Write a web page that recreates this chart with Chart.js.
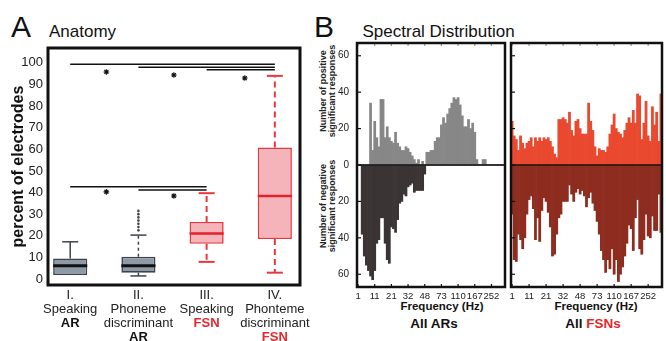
<!DOCTYPE html>
<html>
<head>
<meta charset="utf-8">
<script src="https://cdn.jsdelivr.net/npm/chart.js@4.4.0/dist/chart.umd.min.js"></script>
<style>
  html, body { margin: 0; padding: 0; background: #fff; }
  body { width: 666px; height: 341px; position: relative; overflow: hidden;
         font-family: 'Liberation Sans', Arial, sans-serif; color: #111; }
  canvas { position: absolute; top: 0; }
  .t { position: absolute; white-space: nowrap; }
  .big { font-size: 30px; line-height: 30px; }
  .head { font-size: 17px; line-height: 17px; }
  .ytitle { position: absolute; white-space: nowrap; text-align: center; font-weight: bold;
            font-size: 9px; line-height: 9px; color: #222;
            transform: translate(-50%, -50%) rotate(-90deg); }
  .xt { position: absolute; white-space: nowrap; font-weight: bold; transform: translateX(-50%); }
</style>
</head>
<body>
<div class="t big" style="left:11px; top:11.6px;">A</div>
<div class="t head" style="left:49px; top:22.6px;">Anatomy</div>
<div class="t big" style="left:314px; top:11.6px;">B</div>
<div class="t head" style="left:362.5px; top:22.6px;">Spectral Distribution</div>

<div class="ytitle" style="left:327.5px; top:91px;">Number of positive<br>significant responses</div>
<div class="ytitle" style="left:327.5px; top:206px;">Number of negative<br>significant responses</div>

<div class="xt" style="left:442px; top:300px; font-size:11.5px; line-height:12px;">Frequency (Hz)</div>
<div class="xt" style="left:596px; top:300px; font-size:11.5px; line-height:12px;">Frequency (Hz)</div>
<div class="xt" style="left:434px; top:316.8px; font-size:13.5px; line-height:14px;">All ARs</div>
<div class="xt" style="left:593px; top:316.8px; font-size:13.5px; line-height:14px;">All <span style="color:#e8262c;">FSNs</span></div>

<canvas id="chartA" width="330" height="341" style="left:0px;"></canvas>
<canvas id="chartAR" width="178" height="341" style="left:330px;"></canvas>
<canvas id="chartFSN" width="158" height="341" style="left:508px;"></canvas>

<script>
// ---- panel A: box plots ----
const catNumerals = ['I.', 'II.', 'III.', 'IV.'];
const catTasks = [['Speaking'], ['Phoneme', 'discriminant'], ['Speaking'], ['Phonteme', 'discriminant']];
const catGroups = ['AR', 'AR', 'FSN', 'FSN'];

const boxLow = [1.8, 1.4, 7.9, 2.9];
const boxQ1 = [1.8, 2.9, 16.3, 18.5];
const boxMedian = [6.1, 6.1, 21.0, 38.4];
const boxQ3 = [9.5, 10.3, 26.4, 60.8];
const boxHigh = [17.2, 20.3, 39.7, 94.0];
const outliersII = [22.5, 24, 25.5, 27, 28.5, 30, 31.5];

const yTicksA = [0, 10, 20, 30, 40, 50, 60, 70, 80, 90, 100];

// significance brackets (from category, to category, height) and stars
const sigFrom = [0, 1, 2, 0, 1];
const sigTo = [3, 3, 3, 2, 2];
const sigY = [99.4, 98.0, 96.8, 42.7, 41.2];
const starX = [0.53, 1.52, 2.56, 0.53, 1.52];
const starY = [95.8, 94.4, 93.0, 40.3, 38.4];

// ---- panel B: spectral histograms ----
const freqTicks = ['1', '11', '21', '32', '48', '73', '110', '167', '252'];
const arPositive = [0, 0, 0, 0, 0, 0, 34, 8, 24, 15, 10, 36, 36, 15, 21, 15, 13, 12, 18, 12,
  10, 8, 8, 10, 9, 7, 5, 3, 1, 3, 0, 2, 0, 7, 7, 8, 8, 13, 15, 15,
  22, 26, 23, 28, 31, 34, 37, 36, 37, 33, 27, 21, 21, 25, 20, 23, 18, 3, 0, 0,
  3, 3, 0, 0, 0, 0, 0, 0, 0, 0, 0];
const arNegative = [0, 0, 38, 50, 55, 58, 61, 63, 58, 43, 41, 29, 29, 43, 52, 54, 34, 35, 37, 30,
  21, 20, 16, 17, 12, 11, 10, 15, 14, 14, 14, 14, 5, 0, 0, 0, 0, 0, 0, 0,
  0, 0, 0, 0, 0, 0, 0, 0, 0, 0, 0, 0, 0, 0, 0, 0, 0, 0, 0, 0,
  0, 0, 0, 0, 0, 0, 0, 0, 0, 0, 0];
const fsnPositive = [24, 16, 14, 8, 16, 12, 9, 12, 13, 15, 10, 15, 13, 15, 13, 15, 14, 15, 13, 10,
  6, 4, 25, 25, 26, 25, 23, 29, 19, 16, 24, 25, 20, 17, 17, 17, 34, 24, 19, 10,
  5, 9, 8, 8, 7, 10, 17, 22, 28, 20, 18, 17, 15, 19, 23, 26, 23, 30, 23, 39,
  38, 14, 23, 35, 16, 13, 32, 22, 29, 13, 39];
const fsnNegative = [27, 52, 53, 38, 41, 46, 40, 27, 19, 17, 24, 41, 29, 42, 25, 18, 20, 26, 34, 50,
  49, 38, 29, 27, 20, 20, 20, 11, 16, 20, 15, 13, 16, 14, 17, 23, 18, 15, 21, 25,
  31, 38, 47, 52, 59, 52, 57, 46, 60, 52, 64, 60, 56, 50, 43, 33, 35, 47, 29, 19,
  46, 49, 41, 27, 39, 40, 28, 36, 36, 16, 37];
const yTicksB = [-60, -40, -20, 0, 20, 40, 60];

Chart.defaults.font.family = "'Liberation Sans', Arial, sans-serif";
Chart.defaults.color = '#222';

const grayBox = { fill: '#8e9aa6', edge: '#3d4349', median: '#111' };
const redBox = { fill: '#f4b4b9', edge: '#e8383e', median: '#e3202b' };
const boxStyle = catGroups.map(g => g === 'AR' ? grayBox : redBox);
const groupColor = { AR: '#111', FSN: '#e8262c' };

function line(ctx, x1, y1, x2, y2) {
    ctx.beginPath();
    ctx.moveTo(x1, y1);
    ctx.lineTo(x2, y2);
    ctx.stroke();
}

const framePlugin = {
    id: 'frame',
    afterDraw(chart, args, opts) {
        const { ctx, chartArea: a } = chart;
        ctx.save();
        ctx.strokeStyle = '#111';
        ctx.lineWidth = opts.width || 2.5;
        ctx.strokeRect(a.left, a.top, a.right - a.left, a.bottom - a.top);
        ctx.restore();
    }
};

const boxParts = {
    id: 'boxParts',
    afterDatasetsDraw(chart) {
        const { ctx, scales: { x, y } } = chart;
        const bars = chart.getDatasetMeta(0).data;
        ctx.save();
        catGroups.forEach((g, i) => {
            const s = boxStyle[i];
            const cx = x.getPixelForValue(i);
            const half = bars[i].width / 2;
            const capHalf = half * 0.47;
            const red = g === 'FSN';
            ctx.strokeStyle = s.edge;
            ctx.lineWidth = red ? 2 : 1.5;
            ctx.setLineDash(i === 0 ? [] : (red ? [6, 4] : [3, 3]));
            line(ctx, cx, y.getPixelForValue(boxQ3[i]), cx, y.getPixelForValue(boxHigh[i]));
            line(ctx, cx, y.getPixelForValue(boxQ1[i]), cx, y.getPixelForValue(boxLow[i]));
            ctx.setLineDash([]);
            line(ctx, cx - capHalf, y.getPixelForValue(boxHigh[i]), cx + capHalf, y.getPixelForValue(boxHigh[i]));
            if (boxLow[i] < boxQ1[i]) {
                line(ctx, cx - capHalf, y.getPixelForValue(boxLow[i]), cx + capHalf, y.getPixelForValue(boxLow[i]));
            }
            ctx.strokeStyle = s.median;
            ctx.lineWidth = red ? 2.5 : 3;
            line(ctx, cx - half, y.getPixelForValue(boxMedian[i]), cx + half, y.getPixelForValue(boxMedian[i]));
        });
        ctx.restore();
    }
};

const categoryLabels = {
    id: 'categoryLabels',
    afterDraw(chart) {
        const { ctx, chartArea, scales: { x } } = chart;
        ctx.save();
        ctx.textAlign = 'center';
        ctx.textBaseline = 'middle';
        catNumerals.forEach((num, i) => {
            const cx = x.getPixelForValue(i);
            let yy = chartArea.bottom + 10;
            ctx.font = "13px 'Liberation Sans', Arial, sans-serif";
            ctx.fillStyle = '#222';
            [num, ...catTasks[i]].forEach(t => {
                ctx.fillText(t, cx, yy);
                yy += 14;
            });
            ctx.font = "bold 13px 'Liberation Sans', Arial, sans-serif";
            ctx.fillStyle = groupColor[catGroups[i]];
            ctx.fillText(catGroups[i], cx, yy);
        });
        ctx.restore();
    }
};

new Chart(document.getElementById('chartA'), {
    type: 'bar',
    data: {
        datasets: [
            {
                data: catGroups.map((g, i) => ({ x: i, y: [boxQ1[i], boxQ3[i]] })),
                backgroundColor: boxStyle.map(s => s.fill),
                borderColor: boxStyle.map(s => s.edge),
                borderWidth: 1.6,
                borderSkipped: false,
                barPercentage: 0.5,
                categoryPercentage: 1
            },
            {
                type: 'line',
                data: outliersII.map(v => ({ x: 1, y: v })),
                showLine: false,
                pointRadius: 1.3,
                pointBackgroundColor: '#444',
                pointBorderWidth: 0
            },
            ...sigFrom.map((f, k) => ({
                type: 'line',
                data: [{ x: f, y: sigY[k] }, { x: sigTo[k], y: sigY[k] }],
                borderColor: '#111',
                borderWidth: 1.5,
                pointRadius: 0
            })),
            {
                type: 'line',
                data: starX.map((v, k) => ({ x: v, y: starY[k] })),
                showLine: false,
                pointStyle: 'star',
                pointRadius: 2.8,
                pointBorderColor: '#111',
                pointBorderWidth: 1.1
            }
        ]
    },
    options: {
        responsive: false,
        animation: false,
        layout: { padding: { top: 48, right: 30, bottom: 56, left: 0 } },
        plugins: { legend: { display: false }, tooltip: { enabled: false }, frame: { width: 3 } },
        scales: {
            x: { type: 'linear', display: false, offset: false, min: -0.3255, max: 3.369 },
            y: {
                min: -2.8, max: 106.9,
                grid: { display: false, drawTicks: false },
                border: { display: false },
                afterBuildTicks: s => { s.ticks = yTicksA.map(v => ({ value: v })); },
                afterFit: s => { s.width = 48; s.paddingTop = 0; s.paddingBottom = 0; },
                ticks: { padding: 5, font: { size: 13 }, color: '#222' },
                title: {
                    display: true, text: 'percent of electrodes', color: '#111',
                    font: { size: 16, weight: 'bold' }, padding: { top: 9, bottom: 0 }
                }
            }
        }
    },
    plugins: [boxParts, categoryLabels, framePlugin]
});

// ---- spectral bar charts ----
const binLabels = arPositive.map((v, i) => i % 8 === 0 ? (freqTicks[i / 8] || '') : '');

const innerTicks = {
    id: 'innerTicks',
    afterDatasetsDraw(chart) {
        const { ctx, chartArea: a, scales: { x, y } } = chart;
        ctx.save();
        ctx.strokeStyle = '#111';
        ctx.lineWidth = 1.2;
        y.ticks.forEach(t => {
            const py = y.getPixelForValue(t.value);
            line(ctx, a.left, py, a.left + 4, py);
        });
        binLabels.forEach((lab, i) => {
            if (!lab) return;
            const px = x.getPixelForValue(i);
            line(ctx, px, a.bottom, px, a.bottom - 3);
            ctx.strokeStyle = '#999';
            line(ctx, px, a.top, px, a.top + 3);
            ctx.strokeStyle = '#111';
        });
        ctx.lineWidth = 1.5;
        const y0 = y.getPixelForValue(0);
        line(ctx, a.left, y0, a.right, y0);
        ctx.restore();
    }
};

function spectrumChart(id, pos, neg, posColor, negColor, showLabels, axisWidth, padRight) {
    return new Chart(document.getElementById(id), {
        type: 'bar',
        data: {
            labels: binLabels,
            datasets: [
                { data: pos, backgroundColor: posColor, grouped: false, barPercentage: 1, categoryPercentage: 1, borderWidth: 0 },
                { data: neg.map(v => -v), backgroundColor: negColor, grouped: false, barPercentage: 1, categoryPercentage: 1, borderWidth: 0 }
            ]
        },
        options: {
            responsive: false,
            animation: false,
            layout: { padding: { top: 43, right: padRight, bottom: 0, left: 0 } },
            plugins: { legend: { display: false }, tooltip: { enabled: false }, frame: { width: 2.5 } },
            scales: {
                x: {
                    grid: { display: false, drawTicks: false },
                    border: { display: false },
                    afterFit: s => { s.height = 54; s.paddingLeft = 0; s.paddingRight = 0; },
                    ticks: {
                        autoSkip: false, maxRotation: 0, minRotation: 0, padding: 4,
                        font: { size: 9.5 }, color: '#222',
                        callback: (v, i) => binLabels[i] || null
                    }
                },
                y: {
                    min: -67, max: 67,
                    grid: { display: false, drawTicks: false },
                    border: { display: false },
                    afterBuildTicks: s => { s.ticks = yTicksB.map(v => ({ value: v })); },
                    afterFit: s => { s.width = axisWidth; s.paddingTop = 0; s.paddingBottom = 0; },
                    ticks: {
                        display: showLabels, padding: 8, font: { size: 10 }, color: '#222',
                        callback: v => Math.abs(v)
                    }
                }
            }
        },
        plugins: [innerTicks, framePlugin]
    });
}

spectrumChart('chartAR', arPositive, arNegative, '#878787', '#3b3434', true, 27, 3);
spectrumChart('chartFSN', fsnPositive, fsnNegative, '#e9492f', '#8e2c20', false, 3, 4);
</script>
</body>
</html>
